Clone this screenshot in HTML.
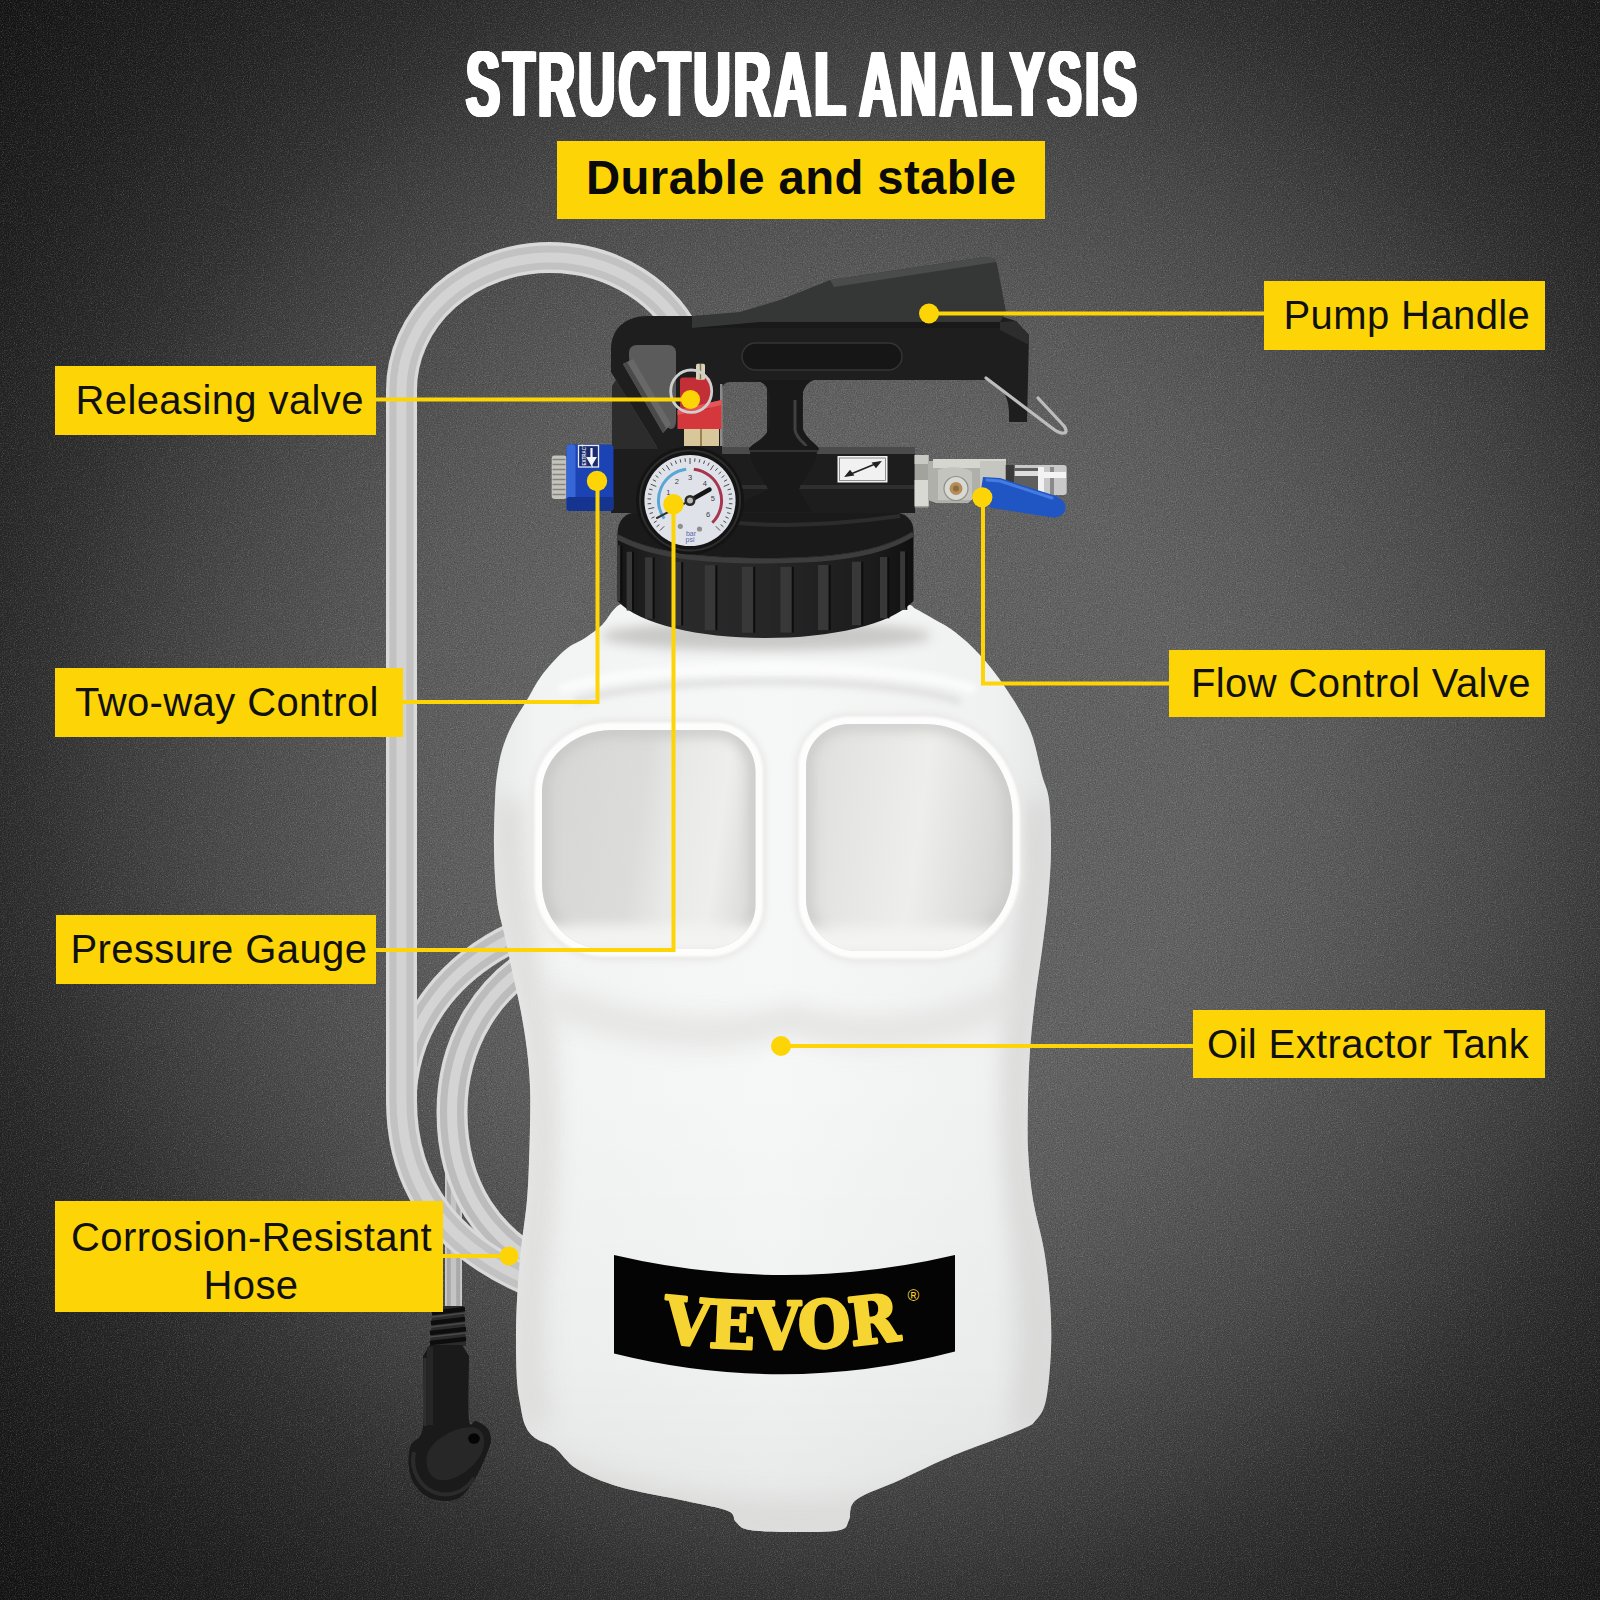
<!DOCTYPE html>
<html lang="en">
<head>
<meta charset="utf-8">
<title>Structural Analysis</title>
<style>
html,body{margin:0;padding:0;}
body{width:1600px;height:1600px;overflow:hidden;background:#3a3a3a;font-family:"Liberation Sans",sans-serif;}
#stage{position:relative;width:1600px;height:1600px;overflow:hidden;
  background:radial-gradient(ellipse 1180px 1200px at 860px 780px,rgb(97,97,97) 0.00%,rgb(97,97,97) 29.17%,rgb(90,90,90) 39.50%,rgb(82,82,82) 46.67%,rgb(73,73,73) 54.00%,rgb(64,64,64) 60.00%,rgb(56,56,56) 65.00%,rgb(48,48,48) 69.17%,rgb(40,40,40) 75.00%,rgb(31,31,31) 83.33%,rgb(23,23,23) 93.33%,rgb(19,19,19) 100.00%);}
#art{position:absolute;left:0;top:0;width:1600px;height:1600px;}
.title{position:absolute;left:3px;top:39px;width:1600px;margin:0;color:#fff;font-weight:700;
  font-size:93px;line-height:91px;letter-spacing:6.1px;word-spacing:-8px;white-space:nowrap;text-align:center;
  transform:scaleX(0.55);transform-origin:800px 0;text-shadow:1px 0 0 #fff,-1px 0 0 #fff,2px 0 0 #fff,-2px 0 0 #fff,3px 0 0 #fff,-3px 0 0 #fff,3.7px 0 0 #fff,-3.7px 0 0 #fff;}
.sub{position:absolute;left:557px;top:141px;width:488px;height:78px;background:#fdd506;color:#0a0a0a;
  font-weight:700;font-size:47.3px;line-height:77px;letter-spacing:.4px;white-space:nowrap;}
.sub span{position:absolute;left:29px;top:-2.5px;}
.lab{position:absolute;background:#fdd506;color:#111;font-size:40px;letter-spacing:.4px;white-space:nowrap;}
</style>
</head>
<body>
<div id="stage">
<svg id="art" viewBox="0 0 1600 1600" width="1600" height="1600">
<defs>
<linearGradient id="gTank" x1="0" x2="1" y1="0" y2="0">
  <stop offset="0" stop-color="#e8e9e9"/><stop offset="0.08" stop-color="#f2f3f3"/><stop offset="0.5" stop-color="#f6f7f7"/><stop offset="0.9" stop-color="#f0f1f1"/><stop offset="1" stop-color="#e3e4e4"/>
</linearGradient>
<linearGradient id="gHoleL" x1="0" x2="1" y1="0" y2="0.15">
  <stop offset="0" stop-color="#d6d6d4"/><stop offset="0.5" stop-color="#dcdcda"/><stop offset="0.68" stop-color="#e9e9e7"/><stop offset="0.88" stop-color="#eeeeec"/><stop offset="1" stop-color="#e2e2e0"/>
</linearGradient>
<linearGradient id="gTankV" x1="0" x2="0" y1="0" y2="1">
  <stop offset="0" stop-color="#000" stop-opacity="0"/><stop offset="0.6" stop-color="#000" stop-opacity="0.025"/><stop offset="1" stop-color="#000" stop-opacity="0.07"/>
</linearGradient>
<linearGradient id="gHoleR" x1="0" x2="1" y1="0" y2="0.15">
  <stop offset="0" stop-color="#dededc"/><stop offset="0.3" stop-color="#e6e6e4"/><stop offset="0.6" stop-color="#eeeeec"/><stop offset="0.85" stop-color="#e0e0de"/><stop offset="1" stop-color="#d8d8d6"/>
</linearGradient>
<linearGradient id="gCap" x1="0" x2="1" y1="0" y2="0">
  <stop offset="0" stop-color="#151515"/><stop offset="0.2" stop-color="#2a2a2a"/><stop offset="0.5" stop-color="#262626"/><stop offset="0.85" stop-color="#1c1c1c"/><stop offset="1" stop-color="#101010"/>
</linearGradient>
<linearGradient id="gHose" x1="0" x2="1" y1="0" y2="0">
  <stop offset="0" stop-color="#d8d8d8"/><stop offset="0.3" stop-color="#b5b5b5"/><stop offset="0.7" stop-color="#c4c4c4"/><stop offset="1" stop-color="#e2e2e2"/>
</linearGradient>
<clipPath id="cTank"><path d="M660.0 603.0C620.0 603.0 636.8 602.7 630.0 603.0C623.2 603.3 622.2 603.3 619.0 605.0C615.8 606.7 613.8 609.7 611.0 613.0C608.2 616.3 606.3 620.8 602.0 625.0C597.7 629.2 591.2 633.8 585.0 638.0C578.8 642.2 572.2 643.8 565.0 650.0C557.8 656.2 548.3 666.7 542.0 675.0C535.7 683.3 532.0 691.7 527.0 700.0C522.0 708.3 516.2 716.7 512.0 725.0C507.8 733.3 504.5 741.7 502.0 750.0C499.5 758.3 498.2 766.7 497.0 775.0C495.8 783.3 495.5 787.5 495.0 800.0C494.5 812.5 493.7 833.3 494.0 850.0C494.3 866.7 495.2 885.5 497.0 900.0C498.8 914.5 502.3 924.5 505.0 937.0C507.7 949.5 510.3 962.5 513.0 975.0C515.7 987.5 518.7 999.5 521.0 1012.0C523.3 1024.5 525.5 1037.5 527.0 1050.0C528.5 1062.5 529.5 1074.5 530.0 1087.0C530.5 1099.5 530.2 1112.5 530.0 1125.0C529.8 1137.5 529.5 1149.5 529.0 1162.0C528.5 1174.5 528.3 1185.3 527.0 1200.0C525.7 1214.7 522.7 1233.3 521.0 1250.0C519.3 1266.7 517.8 1285.0 517.0 1300.0C516.2 1315.0 516.0 1326.5 516.0 1340.0C516.0 1353.5 516.3 1370.5 517.0 1381.0C517.7 1391.5 518.7 1395.7 520.0 1403.0C521.3 1410.3 522.5 1419.2 525.0 1425.0C527.5 1430.8 530.0 1434.2 535.0 1438.0C540.0 1441.8 548.0 1442.8 555.0 1448.0C562.0 1453.2 566.2 1462.5 577.0 1469.0C587.8 1475.5 601.8 1481.7 620.0 1487.0C638.2 1492.3 668.0 1497.0 686.0 1501.0C704.0 1505.0 719.7 1507.5 728.0 1511.0C736.3 1514.5 732.3 1518.8 736.0 1522.0C739.7 1525.2 739.3 1528.3 750.0 1530.0C760.7 1531.7 785.0 1532.0 800.0 1532.0C815.0 1532.0 831.8 1532.0 840.0 1530.0C848.2 1528.0 846.3 1525.0 849.0 1520.0C851.7 1515.0 847.5 1506.7 856.0 1500.0C864.5 1493.3 884.3 1487.2 900.0 1480.0C915.7 1472.8 930.0 1465.3 950.0 1457.0C970.0 1448.7 1005.7 1436.2 1020.0 1430.0C1034.3 1423.8 1031.7 1425.0 1036.0 1420.0C1040.3 1415.0 1043.5 1411.7 1046.0 1400.0C1048.5 1388.3 1050.3 1366.7 1051.0 1350.0C1051.7 1333.3 1051.2 1316.7 1050.0 1300.0C1048.8 1283.3 1046.8 1266.7 1044.0 1250.0C1041.2 1233.3 1035.7 1216.7 1033.0 1200.0C1030.3 1183.3 1028.8 1166.7 1028.0 1150.0C1027.2 1133.3 1027.7 1116.7 1028.0 1100.0C1028.3 1083.3 1028.8 1066.7 1030.0 1050.0C1031.2 1033.3 1033.0 1016.7 1035.0 1000.0C1037.0 983.3 1039.8 966.7 1042.0 950.0C1044.2 933.3 1046.5 916.7 1048.0 900.0C1049.5 883.3 1050.8 866.7 1051.0 850.0C1051.2 833.3 1050.5 812.5 1049.0 800.0C1047.5 787.5 1045.2 786.7 1042.0 775.0C1038.8 763.3 1036.2 744.7 1030.0 730.0C1023.8 715.3 1013.3 699.5 1005.0 687.0C996.7 674.5 988.3 664.2 980.0 655.0C971.7 645.8 963.0 638.2 955.0 632.0C947.0 625.8 938.5 621.8 932.0 618.0C925.5 614.2 920.3 611.3 916.0 609.0C911.7 606.7 913.7 605.0 906.0 604.0C898.3 603.0 911.0 603.2 870.0 603.0C829.0 602.8 700.0 603.0 660.0 603.0Z"/></clipPath>
<filter id="grain" x="0" y="0" width="100%" height="100%"><feTurbulence type="fractalNoise" baseFrequency="0.85" numOctaves="2" seed="7" result="n"/><feColorMatrix in="n" type="matrix" values="0 0 0 0 1  0 0 0 0 1  0 0 0 0 1  0.9 0.9 0.9 0 -1.25"/></filter>
<filter id="grainD" x="0" y="0" width="100%" height="100%"><feTurbulence type="fractalNoise" baseFrequency="0.85" numOctaves="2" seed="23" result="n"/><feColorMatrix in="n" type="matrix" values="0 0 0 0 0  0 0 0 0 0  0 0 0 0 0  0.9 0.9 0.9 0 -1.25"/></filter>
<filter id="b1" x="-10%" y="-10%" width="120%" height="120%"><feGaussianBlur stdDeviation="1.3"/></filter>
<filter id="b3" x="-30%" y="-30%" width="160%" height="160%"><feGaussianBlur stdDeviation="3"/></filter>
<filter id="b6" x="-40%" y="-40%" width="180%" height="180%"><feGaussianBlur stdDeviation="6"/></filter>
<filter id="b12" x="-60%" y="-60%" width="220%" height="220%"><feGaussianBlur stdDeviation="12"/></filter>
</defs>
<rect width="1600" height="1600" filter="url(#grain)" opacity="0.26"/>
<rect width="1600" height="1600" filter="url(#grainD)" opacity="0.26"/>

<g id="hose" fill="none" stroke-linecap="butt">
  <path d="M453.5 1140V1312" stroke="#c9c9c9" stroke-width="17" opacity="1"/><path d="M453.5 1140V1312" stroke="#a9a9a9" stroke-width="13.3" opacity="1"/><path d="M453.5 1140V1312" stroke="#c4c4c4" stroke-width="5.4" opacity="1"/>
  <path d="M540 958C490 985 452 1040 452 1112C452 1190 490 1240 545 1268" stroke="#dadada" stroke-width="31" opacity="1"/><path d="M540 958C490 985 452 1040 452 1112C452 1190 490 1240 545 1268" stroke="#bcbcbc" stroke-width="24.2" opacity="1"/><path d="M540 958C490 985 452 1040 452 1112C452 1190 490 1240 545 1268" stroke="#d4d4d4" stroke-width="9.9" opacity="1"/>
  <path d="M530 930C455 960 401.500 1020 401.500 1105" stroke="#dadada" stroke-width="30" opacity="1"/><path d="M530 930C455 960 401.500 1020 401.500 1105" stroke="#bebebe" stroke-width="23.4" opacity="1"/><path d="M530 930C455 960 401.500 1020 401.500 1105" stroke="#d4d4d4" stroke-width="9.6" opacity="1"/>
  <path d="M540 1285C450 1250 401.500 1190 401.500 1100V390A148.500 132.500 0 0 1 550 257.500A148.500 132.500 0 0 1 690 346" stroke="#d9d9d9" stroke-width="31" opacity="1"/><path d="M540 1285C450 1250 401.500 1190 401.500 1100V390A148.500 132.500 0 0 1 550 257.500A148.500 132.500 0 0 1 690 346" stroke="#c2c2c2" stroke-width="24.2" opacity="1"/><path d="M540 1285C450 1250 401.500 1190 401.500 1100V390A148.500 132.500 0 0 1 550 257.500A148.500 132.500 0 0 1 690 346" stroke="#d3d3d3" stroke-width="9.9" opacity="1"/>
</g>


<g id="nozzle">
  <path d="M433 1306L464 1306L466 1346L430 1346Z" fill="#2b2b2b"/>
  <path d="M432 1313L465 1309M431 1323L465 1319M430 1333L466 1329M430 1343L466 1339" stroke="#0d0d0d" stroke-width="4.500"/>
  <path d="M432 1317L465 1313M431 1327L465 1323M430 1337L466 1333" stroke="#4a4a4a" stroke-width="1.500"/>
  <path d="M423.0 1356.0C423.0 1367.8 425.0 1412.2 423.0 1427.0C421.0 1441.8 413.4 1439.0 411.0 1445.0C408.6 1451.0 408.2 1456.8 408.5 1463.0C408.8 1469.2 410.1 1476.5 413.0 1482.0C415.9 1487.5 420.7 1492.8 426.0 1496.0C431.3 1499.2 439.0 1501.0 445.0 1501.0C451.0 1501.0 456.8 1500.0 462.0 1496.0C467.2 1492.0 472.0 1483.7 476.0 1477.0C480.0 1470.3 483.5 1462.2 486.0 1456.0C488.5 1449.8 490.8 1444.7 491.0 1440.0C491.2 1435.3 489.5 1431.2 487.0 1428.0C484.5 1424.8 479.0 1422.3 476.0 1421.0C473.0 1419.7 470.2 1430.8 469.0 1420.0C467.8 1409.2 469.0 1366.7 469.0 1356.0L462 1345H430Z" fill="#1a1a1a"/>
  <path d="M425 1358V1426" stroke="#2f2f2f" stroke-width="3"/>
  <path d="M430 1347V1425" stroke="#262626" stroke-width="6"/>
  <path d="M428 1452C436 1436 462 1424 476 1428C486 1432 486 1446 480 1456C470 1472 452 1482 440 1480C428 1478 424 1464 428 1452Z" fill="#272727"/>
  <path d="M414 1452C410 1470 420 1490 440 1494C455 1496 466 1490 474 1478" fill="none" stroke="#2b2b2b" stroke-width="4"/>
  <ellipse cx="474" cy="1438.500" rx="5.800" ry="5.200" fill="#050505"/>
</g>


<g id="tank">
  <path d="M660.0 603.0C620.0 603.0 636.8 602.7 630.0 603.0C623.2 603.3 622.2 603.3 619.0 605.0C615.8 606.7 613.8 609.7 611.0 613.0C608.2 616.3 606.3 620.8 602.0 625.0C597.7 629.2 591.2 633.8 585.0 638.0C578.8 642.2 572.2 643.8 565.0 650.0C557.8 656.2 548.3 666.7 542.0 675.0C535.7 683.3 532.0 691.7 527.0 700.0C522.0 708.3 516.2 716.7 512.0 725.0C507.8 733.3 504.5 741.7 502.0 750.0C499.5 758.3 498.2 766.7 497.0 775.0C495.8 783.3 495.5 787.5 495.0 800.0C494.5 812.5 493.7 833.3 494.0 850.0C494.3 866.7 495.2 885.5 497.0 900.0C498.8 914.5 502.3 924.5 505.0 937.0C507.7 949.5 510.3 962.5 513.0 975.0C515.7 987.5 518.7 999.5 521.0 1012.0C523.3 1024.5 525.5 1037.5 527.0 1050.0C528.5 1062.5 529.5 1074.5 530.0 1087.0C530.5 1099.5 530.2 1112.5 530.0 1125.0C529.8 1137.5 529.5 1149.5 529.0 1162.0C528.5 1174.5 528.3 1185.3 527.0 1200.0C525.7 1214.7 522.7 1233.3 521.0 1250.0C519.3 1266.7 517.8 1285.0 517.0 1300.0C516.2 1315.0 516.0 1326.5 516.0 1340.0C516.0 1353.5 516.3 1370.5 517.0 1381.0C517.7 1391.5 518.7 1395.7 520.0 1403.0C521.3 1410.3 522.5 1419.2 525.0 1425.0C527.5 1430.8 530.0 1434.2 535.0 1438.0C540.0 1441.8 548.0 1442.8 555.0 1448.0C562.0 1453.2 566.2 1462.5 577.0 1469.0C587.8 1475.5 601.8 1481.7 620.0 1487.0C638.2 1492.3 668.0 1497.0 686.0 1501.0C704.0 1505.0 719.7 1507.5 728.0 1511.0C736.3 1514.5 732.3 1518.8 736.0 1522.0C739.7 1525.2 739.3 1528.3 750.0 1530.0C760.7 1531.7 785.0 1532.0 800.0 1532.0C815.0 1532.0 831.8 1532.0 840.0 1530.0C848.2 1528.0 846.3 1525.0 849.0 1520.0C851.7 1515.0 847.5 1506.7 856.0 1500.0C864.5 1493.3 884.3 1487.2 900.0 1480.0C915.7 1472.8 930.0 1465.3 950.0 1457.0C970.0 1448.7 1005.7 1436.2 1020.0 1430.0C1034.3 1423.8 1031.7 1425.0 1036.0 1420.0C1040.3 1415.0 1043.5 1411.7 1046.0 1400.0C1048.5 1388.3 1050.3 1366.7 1051.0 1350.0C1051.7 1333.3 1051.2 1316.7 1050.0 1300.0C1048.8 1283.3 1046.8 1266.7 1044.0 1250.0C1041.2 1233.3 1035.7 1216.7 1033.0 1200.0C1030.3 1183.3 1028.8 1166.7 1028.0 1150.0C1027.2 1133.3 1027.7 1116.7 1028.0 1100.0C1028.3 1083.3 1028.8 1066.7 1030.0 1050.0C1031.2 1033.3 1033.0 1016.7 1035.0 1000.0C1037.0 983.3 1039.8 966.7 1042.0 950.0C1044.2 933.3 1046.5 916.7 1048.0 900.0C1049.5 883.3 1050.8 866.7 1051.0 850.0C1051.2 833.3 1050.5 812.5 1049.0 800.0C1047.5 787.5 1045.2 786.7 1042.0 775.0C1038.8 763.3 1036.2 744.7 1030.0 730.0C1023.8 715.3 1013.3 699.5 1005.0 687.0C996.7 674.5 988.3 664.2 980.0 655.0C971.7 645.8 963.0 638.2 955.0 632.0C947.0 625.8 938.5 621.8 932.0 618.0C925.5 614.2 920.3 611.3 916.0 609.0C911.7 606.7 913.7 605.0 906.0 604.0C898.3 603.0 911.0 603.2 870.0 603.0C829.0 602.8 700.0 603.0 660.0 603.0Z" fill="url(#gTank)"/>
  <g clip-path="url(#cTank)">
    <rect x="480" y="1080" width="600" height="470" fill="url(#gTankV)"/>
    <!-- shadow under cap -->
    <ellipse cx="766" cy="636" rx="165" ry="15" fill="#c6c6c4" filter="url(#b6)" opacity="0.95"/>
    <path d="M560 690C640 660 900 660 975 690" fill="none" stroke="#fdfdfd" stroke-width="9" filter="url(#b3)" opacity="0.9"/>
    <path d="M575 702C650 675 890 675 960 702" fill="none" stroke="#dcdcda" stroke-width="7" filter="url(#b3)" opacity="0.8"/>
    <!-- side shading -->
    <path d="M495 800C494 880 505 940 521 1012C532 1080 531 1150 521 1250C515 1320 515 1380 525 1425L552 1425C540 1380 540 1320 548 1250C558 1150 558 1080 548 1012C532 940 522 880 522 800Z" fill="#d9d9d7" filter="url(#b12)" opacity="0.85"/>
    <path d="M1051 800C1052 880 1045 940 1035 1000C1026 1080 1026 1150 1044 1250C1052 1320 1052 1380 1040 1420L1012 1425C1024 1380 1024 1320 1016 1250C1000 1150 1000 1080 1008 1000C1017 940 1024 880 1023 800Z" fill="#d6d6d4" filter="url(#b12)" opacity="0.85"/>
    <path d="M520 1440C600 1480 700 1500 800 1500C900 1500 980 1470 1040 1430L1040 1540H520Z" fill="#dadad8" filter="url(#b12)" opacity="0.9"/>
    <path d="M550 985C640 1020 720 1028 790 1004C860 1028 940 1020 1015 980L1015 1012C940 1048 860 1056 790 1034C720 1056 640 1048 550 1015Z" fill="#e2e2e0" filter="url(#b12)" opacity="0.9"/>
  </g>
  <!-- handle holes -->
  <path d="M613.0 719.0H714.5C743.2 719.0 766.5 743.2 766.5 773.0V905.0C766.5 935.9 739.6 961.0 706.5 961.0H605.0C564.1 961.0 531.0 926.1 531.0 883.0V793.0C531.0 752.1 567.7 719.0 613.0 719.0Z" fill="#e9e9e7" filter="url(#b3)"/>
  <path d="M851.0 713.0H923.5C978.7 713.0 1023.5 759.6 1023.5 817.0V871.0C1023.5 921.8 982.3 963.0 931.5 963.0H859.0C823.7 963.0 795.0 934.3 795.0 899.0V767.0C795.0 737.2 820.1 713.0 851.0 713.0Z" fill="#e9e9e7" filter="url(#b3)"/>
  <path d="M612.0 730.0H715.5C737.6 730.0 755.5 748.8 755.5 772.0V905.0C755.5 929.3 734.0 949.0 707.5 949.0H604.0C569.8 949.0 542.0 919.5 542.0 883.0V792.0C542.0 757.8 573.3 730.0 612.0 730.0Z" fill="#fdfdfd" stroke="#fdfdfd" stroke-width="15" stroke-linejoin="round" filter="url(#b1)"/>
  <path d="M850.0 724.0H924.5C973.1 724.0 1012.5 765.2 1012.5 816.0V871.0C1012.5 915.2 976.7 951.0 932.5 951.0H858.0C829.3 951.0 806.0 927.7 806.0 899.0V766.0C806.0 742.8 825.7 724.0 850.0 724.0Z" fill="#fdfdfd" stroke="#fdfdfd" stroke-width="15" stroke-linejoin="round" filter="url(#b1)"/>
  <path d="M612.0 730.0H715.5C737.6 730.0 755.5 748.8 755.5 772.0V905.0C755.5 929.3 734.0 949.0 707.5 949.0H604.0C569.8 949.0 542.0 919.5 542.0 883.0V792.0C542.0 757.8 573.3 730.0 612.0 730.0Z" fill="url(#gHoleL)"/>
  <path d="M850.0 724.0H924.5C973.1 724.0 1012.5 765.2 1012.5 816.0V871.0C1012.5 915.2 976.7 951.0 932.5 951.0H858.0C829.3 951.0 806.0 927.7 806.0 899.0V766.0C806.0 742.8 825.7 724.0 850.0 724.0Z" fill="url(#gHoleR)"/>
  <clipPath id="cHL"><path d="M612.0 730.0H715.5C737.6 730.0 755.5 748.8 755.5 772.0V905.0C755.5 929.3 734.0 949.0 707.5 949.0H604.0C569.8 949.0 542.0 919.5 542.0 883.0V792.0C542.0 757.8 573.3 730.0 612.0 730.0Z"/></clipPath>
  <clipPath id="cHR"><path d="M850.0 724.0H924.5C973.1 724.0 1012.5 765.2 1012.5 816.0V871.0C1012.5 915.2 976.7 951.0 932.5 951.0H858.0C829.3 951.0 806.0 927.7 806.0 899.0V766.0C806.0 742.8 825.7 724.0 850.0 724.0Z"/></clipPath>
  <g clip-path="url(#cHL)">
    <path d="M612.0 730.0H715.5C737.6 730.0 755.5 748.8 755.5 772.0V905.0C755.5 929.3 734.0 949.0 707.5 949.0H604.0C569.8 949.0 542.0 919.5 542.0 883.0V792.0C542.0 757.8 573.3 730.0 612.0 730.0Z" fill="none" stroke="#c4c4c2" stroke-width="14" filter="url(#b6)" opacity="0.8"/>
    <rect x="540" y="925" width="220" height="30" fill="#f3f3f1" filter="url(#b6)"/>
  </g>
  <g clip-path="url(#cHR)">
    <path d="M850.0 724.0H924.5C973.1 724.0 1012.5 765.2 1012.5 816.0V871.0C1012.5 915.2 976.7 951.0 932.5 951.0H858.0C829.3 951.0 806.0 927.7 806.0 899.0V766.0C806.0 742.8 825.7 724.0 850.0 724.0Z" fill="none" stroke="#c8c8c6" stroke-width="14" filter="url(#b6)" opacity="0.8"/>
    <rect x="800" y="927" width="220" height="30" fill="#f3f3f1" filter="url(#b6)"/>
  </g>
</g>


<g id="vevor">
  <path d="M614 1255Q785 1295 955 1255V1351.500Q785 1396 614 1353.500Z" fill="#040404"/>
  <path id="vbase" d="M662 1342.500Q782 1357 902 1339.500" fill="none"/>
  <text font-family="'DejaVu Serif Condensed','DejaVu Serif','Liberation Serif',serif" font-stretch="condensed" font-weight="700" font-size="65.500" fill="#f6d432" stroke="#f6d432" stroke-width="2.800" stroke-linejoin="round"><textPath href="#vbase" textLength="240" lengthAdjust="spacingAndGlyphs">VEVOR</textPath></text>
  <text x="913.500" y="1301" text-anchor="middle" font-family="'Liberation Sans',sans-serif" font-size="16" fill="#f6d432">®</text>
</g>


<g id="cap">
  <path d="M617.500 534V601C640 625 700 638 765.500 638C831 638 891 625 913.500 601V531C880 552 831 558 765.500 558C700 558 650 552 617.500 534Z" fill="url(#gCap)"/>
  <path d="M618.9 545.5V601.1" stroke="#383838" stroke-width="2.9"/><path d="M621.4 545.5V601.1" stroke="#0d0d0d" stroke-width="2"/><path d="M629.3 551.8V610.5" stroke="#383838" stroke-width="5.4"/><path d="M633.0 551.8V610.5" stroke="#0d0d0d" stroke-width="2"/><path d="M648.9 557.4V618.8" stroke="#383838" stroke-width="7.7"/><path d="M653.7 557.4V618.8" stroke="#0d0d0d" stroke-width="2"/><path d="M676.4 562.0V625.5" stroke="#383838" stroke-width="9.5"/><path d="M682.2 562.0V625.5" stroke="#0d0d0d" stroke-width="2"/><path d="M710.1 565.2V630.3" stroke="#383838" stroke-width="10.8"/><path d="M716.4 565.2V630.3" stroke="#0d0d0d" stroke-width="2"/><path d="M747.5 566.8V632.7" stroke="#383838" stroke-width="11.4"/><path d="M754.2 566.8V632.7" stroke="#0d0d0d" stroke-width="2"/><path d="M786.1 566.8V632.6" stroke="#383838" stroke-width="11.4"/><path d="M792.8 566.8V632.6" stroke="#0d0d0d" stroke-width="2"/><path d="M823.3 565.0V630.1" stroke="#383838" stroke-width="10.7"/><path d="M829.7 565.0V630.1" stroke="#0d0d0d" stroke-width="2"/><path d="M856.6 561.7V625.2" stroke="#383838" stroke-width="9.4"/><path d="M862.3 561.7V625.2" stroke="#0d0d0d" stroke-width="2"/><path d="M883.7 557.0V618.3" stroke="#383838" stroke-width="7.5"/><path d="M888.5 557.0V618.3" stroke="#0d0d0d" stroke-width="2"/><path d="M902.7 551.4V609.9" stroke="#383838" stroke-width="5.2"/><path d="M906.3 551.4V609.9" stroke="#0d0d0d" stroke-width="2"/>
  <path d="M617.500 534C617.500 520 625 512 640 512H891C906 512 913.500 520 913.500 531C880 552 831 558 765.500 558C700 558 650 552 617.500 534Z" fill="#1a1a1a"/>
  <path d="M617.500 537C650 555 700 561 765.500 561C831 561 880 555 913.500 534" fill="none" stroke="#3d3d3d" stroke-width="5"/>
  <path d="M700 514C720 526 800 530 900 516" fill="none" stroke="#2c2c2c" stroke-width="4"/>
</g>


<g id="head">
  <!-- horizontal body block -->
  <rect x="611" y="447" width="304" height="66" fill="#1d1d1d"/>
  <rect x="722" y="447" width="193" height="7" fill="#4b4b4b"/>
  <rect x="700" y="485" width="215" height="4" fill="#2f2f2f"/>
  <!-- frame -->
  <path d="M611 372V350C611 328 626 316 648 316H1000L1016 321L1029 335L1027 422H1009V412C1009 394 998 381 985 380H812C806 380 803 384 803 390V447H767V390C767 384 764 382 758 382H731C725 382 722 385 722 391V449H658Z" fill="#1e1e1e"/>
  <path d="M612 386L616 380L658 449H612Z" fill="#2c2c2c"/>
  <!-- opening -->
  <path d="M629 353C629 348 632 345 637 345H668C673 345 676 348 676 353V420C676 430 670 432 665 424L631 367C629 363 629 358 629 353Z" fill="#5b5b5b"/>
  <path d="M623 364L633 359L671 424L663 433Z" fill="#686868"/>
  <path d="M623 364L627 362L666 428L663 433Z" fill="#4a4a4a"/>
  <!-- slot -->
  <rect x="742" y="343" width="160" height="27" rx="13.500" fill="#161616" stroke="#343434" stroke-width="1.5"/>
  <!-- upper lever -->
  <path d="M692 316L740 312L780 300L830 280L985 257Q995 256 997 264L1006 312L1000 322V328H692Z" fill="#353736"/>
  <path d="M830 280L985 257Q993 256 996 262L834 287Z" fill="#4a4c4b"/>
  <path d="M760 322L1000 322V328H692Z" fill="#191919"/>
  <path d="M1000 322L1016 321L1029 335V345L1000 330Z" fill="#2d2d2d"/>
  <!-- pump shaft -->
  <path d="M756 380H814C806 383 802 390 802 400V424C803 438 818 444 819 449L817 452C815 470 800 482 799 490L812 512H722L768 490C767 482 752 470 750 452L749 449C750 444 769 438 770 424V400C770 390 766 383 756 380Z" fill="#191919"/>
  <path d="M750 451H818" stroke="#333" stroke-width="2"/>
  <path d="M795 400V430C797 440 806 444 806 446" fill="none" stroke="#4a4a4a" stroke-width="3" opacity="0.8"/>
  <!-- sticker -->
  <rect x="837.500" y="456" width="50" height="26.500" fill="#f1f1f1"/>
  <rect x="839.500" y="458" width="46" height="22.500" fill="none" stroke="#777" stroke-width="0.8"/>
  <path d="M846 476L880 462M846 476l7-1-3-4zM880 462l-7 1 3 4z" stroke="#222" stroke-width="1.6" fill="#222"/>
  <!-- clip wire -->
  <path d="M986 378L1052 428C1062 436 1070 434 1064 426L1038 398" fill="none" stroke="#bdbdbd" stroke-width="3.2" stroke-linecap="round"/>
</g>


<g id="valveR">
  <rect x="914.600" y="455" width="14" height="52.500" fill="#a3a39d"/>
  <rect x="914.600" y="455" width="14" height="9" fill="#c9c9c3"/>
  <rect x="914.600" y="480" width="14" height="26" fill="#d9d9d4"/>
  <path d="M928 461H1006V497H975L968 503H936L928 500Z" fill="#b0b0ab"/>
  <rect x="933" y="459" width="73" height="9" fill="#d6d6d1"/>
  <rect x="980" y="461" width="26" height="34" fill="#c6c6c1"/>
  <path d="M938 470C945 466 966 466 972 472V500H938Z" fill="#c4c4bf"/>
  <circle cx="956" cy="488.500" r="12" fill="#d8d8d4" stroke="#8f8f8a" stroke-width="1.2"/>
  <circle cx="956" cy="488.500" r="6.500" fill="#b58d5a"/>
  <circle cx="956" cy="488.500" r="3" fill="#8e6b3e"/>
  <rect x="1005.700" y="465" width="61" height="30" rx="3" fill="#c9c9c9"/>
  <rect x="1005.700" y="465" width="9" height="30" fill="#3a3a3a"/>
  <rect x="1014.700" y="468" width="24" height="26" fill="#5e5e5e"/>
  <rect x="1014.700" y="471" width="24" height="5" fill="#dedede"/>
  <rect x="1038" y="467" width="6" height="28" fill="#f2f2f2"/>
  <rect x="1050" y="467" width="4" height="28" fill="#8a8a8a"/>
  <rect x="1044" y="472" width="22" height="6" fill="#f4f4f4"/>
  <path d="M983 477L1000 478L1056 496Q1068 502 1065 511Q1061 519 1049 517L992 508Q979 503 981 490Z" fill="#1f56c4"/>
  <path d="M987 480L1000 481L1052 498" fill="none" stroke="#4f86ea" stroke-width="3" stroke-linecap="round" opacity="0.8"/>
</g>


<g id="valveL">
  <rect x="551.700" y="455.500" width="15" height="43.500" rx="3" fill="#c4c4bd"/>
  <path d="M552.500 459.500h13M552.500 464.500h13M552.500 469.500h13M552.500 474.500h13M552.500 479.500h13M552.500 484.500h13M552.500 489.500h13M552.500 494.500h13" stroke="#85857f" stroke-width="1.6"/>
  <rect x="566.500" y="444.500" width="47" height="66.500" rx="4" fill="#1b43b4"/>
  <rect x="566.500" y="444.500" width="9" height="66.500" rx="3" fill="#3767d6"/>
  <rect x="566.500" y="497" width="47" height="14" rx="3" fill="#15348f"/>
  <rect x="578.500" y="445.500" width="20" height="21.500" fill="#1b2b6d" stroke="#e6ebf7" stroke-width="1.3"/>
  <path d="M591.500 448v16l-3.500-6h7l-3.500 6" stroke="#f2f5fb" stroke-width="2.2" fill="#f2f5fb"/>
  <text transform="translate(586,465.500) rotate(-90)" font-family="'Liberation Sans',sans-serif" font-weight="700" font-size="4.500" fill="#e6ebf7">EXTRACT</text>
</g>


<g id="relief">
  <rect x="720" y="384" width="2.500" height="62" fill="#8b8b8b"/>
  <rect x="684" y="428" width="35" height="18" fill="#d9c79c"/>
  <rect x="700" y="428" width="2" height="18" fill="#9c8352"/>
  <path d="M677.500 410L721.500 400V429H677.500Z" fill="#d4383d"/>
  <rect x="680" y="377.500" width="30.500" height="32" rx="3" fill="#c22f36"/>
  <path d="M677.500 410L721.500 400V405L677.500 415Z" fill="#e4565a"/>
  <rect x="696" y="363.700" width="9" height="16" rx="1.500" fill="#d9d2b4"/>
  <rect x="699.800" y="364" width="1.400" height="15" fill="#7d7558"/>
  <ellipse cx="691.200" cy="391.200" rx="20.500" ry="21.200" fill="none" stroke="#cfcfcf" stroke-width="2.800"/>
</g>


<g id="gauge">
  <circle cx="690" cy="500.5" r="54" fill="#141414"/>
  <circle cx="690" cy="500.5" r="50" fill="none" stroke="#2e2e2e" stroke-width="2"/>
  <circle cx="690" cy="500.5" r="45.600" fill="#dfe3e9"/>
  <path d="M664.2 518.6A31.5 31.5 0 0 1 686.2 469.2" fill="none" stroke="#5aa7d6" stroke-width="3"/>
  <path d="M693.8 469.2A31.5 31.5 0 0 1 712.3 522.8" fill="none" stroke="#a8354f" stroke-width="3"/>
  <path d="M659.9 530.6L664.2 526.3M656.6 526.8L659.4 524.6M653.8 522.7L656.7 520.9M651.4 518.3L654.6 516.8M649.6 513.6L652.9 512.6M648.3 508.8L654.2 507.6M647.6 503.8L651.1 503.6M647.5 498.8L651.0 499.0M648.0 493.9L651.5 494.4M649.1 489.0L652.5 489.9M650.7 484.2L656.3 486.5M652.9 479.7L656.0 481.4M655.6 475.5L658.4 477.6M658.8 471.7L661.4 474.0M662.4 468.2L664.7 470.8M666.4 465.2L669.7 470.2M670.7 462.6L672.3 465.8M675.3 460.6L676.5 463.9M680.1 459.2L680.9 462.6M685.0 458.3L685.4 461.8M690.0 458.0L690.0 464.0M695.0 458.3L694.6 461.8M699.9 459.2L699.1 462.6M704.7 460.6L703.5 463.9M709.3 462.6L707.7 465.8M713.6 465.2L710.3 470.2M717.6 468.2L715.3 470.8M721.2 471.7L718.6 474.0M724.4 475.5L721.6 477.6M727.1 479.7L724.0 481.4M729.3 484.2L723.7 486.5M730.9 489.0L727.5 489.9M732.0 493.9L728.5 494.4M732.5 498.8L729.0 499.0M732.4 503.8L728.9 503.6M731.7 508.8L725.8 507.6M730.4 513.6L727.1 512.6M728.6 518.3L725.4 516.8M726.2 522.7L723.3 520.9M723.4 526.8L720.6 524.6M720.1 530.6L715.8 526.3" stroke="#3a3a3a" stroke-width="0.9"/>
  <g font-family="'Liberation Sans',sans-serif" font-size="7.500" fill="#3b3b45" text-anchor="middle"><text x="668.4" y="495.2">1</text><text x="676.8" y="484.3">2</text><text x="690.0" y="480.1">3</text><text x="704.8" y="485.5">4</text><text x="712.9" y="501.1">5</text><text x="708.1" y="517.3">6</text>
    <text x="691" y="535.5" fill="#5a66a6" font-size="7">bar</text><text x="690" y="542.0" fill="#5a66a6" font-size="7">psi</text>
  </g>
  <path d="M657 518.0L690 500.5" stroke="#333" stroke-width="2" stroke-linecap="round"/>
  <path d="M690 500.5L709.5 489.5" stroke="#151515" stroke-width="4.500" stroke-linecap="round"/>
  <circle cx="690" cy="500.5" r="5.500" fill="#2a2a2a"/><circle cx="690" cy="500.5" r="3" fill="#b9b9b9"/>
  <circle cx="680.3" cy="526.3" r="2.600" fill="#8f8f8f"/><circle cx="699.5" cy="529.0" r="2.600" fill="#8f8f8f"/>
</g>


<g id="lines" fill="none" stroke="#fdd506" stroke-width="4">
  <path d="M930 313.5H1264"/>
  <path d="M376 399.5H690"/>
  <path d="M403 702H597.5V481"/>
  <path d="M376 950H673.5V504"/>
  <path d="M983 497V683.5H1169"/>
  <path d="M781 1046H1193"/>
  <path d="M443 1256H509"/>
</g>
<g id="dots" fill="#fdd506">
  <circle cx="929" cy="313.500" r="10"/>
  <circle cx="690.500" cy="399.500" r="9.600"/>
  <circle cx="597" cy="481" r="10.200"/>
  <circle cx="673.400" cy="504.300" r="10.200"/>
  <circle cx="982.300" cy="497.300" r="10.100"/>
  <circle cx="781" cy="1046" r="10"/>
  <circle cx="509" cy="1256" r="9.500"/>
</g>

</svg>
<h1 class="title" id="title">STRUCTURAL ANALYSIS</h1>
<div class="sub"><span id="subt">Durable and stable</span></div>
<div class="lab" style="left:1264px;top:281px;width:281px;height:69px;line-height:69px;"><span style="position:absolute;left:19.5px;top:0;">Pump Handle</span></div><div class="lab" style="left:55px;top:366px;width:321px;height:69px;line-height:69px;"><span style="position:absolute;left:20.5px;top:0;">Releasing valve</span></div><div class="lab" style="left:55px;top:668px;width:348px;height:69px;line-height:69px;"><span style="position:absolute;left:20px;top:0;">Two-way Control</span></div><div class="lab" style="left:1169px;top:650px;width:376px;height:67px;line-height:67px;"><span style="position:absolute;left:22px;top:0;">Flow Control Valve</span></div><div class="lab" style="left:56px;top:915px;width:320px;height:69px;line-height:69px;"><span style="position:absolute;left:14.5px;top:0;">Pressure Gauge</span></div><div class="lab" style="left:1193px;top:1010px;width:352px;height:68px;line-height:68px;"><span style="position:absolute;left:14px;top:0;">Oil Extractor Tank</span></div><div class="lab" style="left:55px;top:1201px;width:388px;height:111px;line-height:48px;"><span style="position:absolute;left:16px;top:11.5px;width:360px;text-align:center;">Corrosion-Resistant<br>Hose</span></div>
</div>
</body>
</html>
